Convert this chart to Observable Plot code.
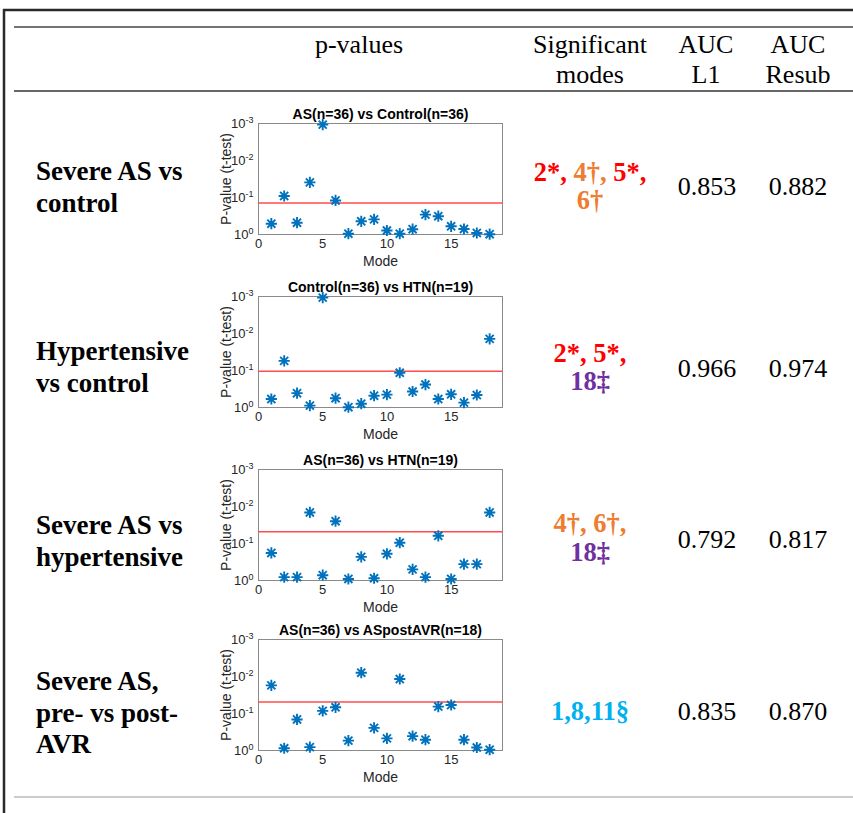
<!DOCTYPE html>
<html><head><meta charset="utf-8">
<script src="https://cdn.jsdelivr.net/npm/d3@7"></script>
<script src="https://cdn.jsdelivr.net/npm/@observablehq/plot@0.6"></script>
<style>
body{margin:0;background:#fff;}
#wrap{position:relative;width:853px;height:813px;overflow:hidden;background:#fff;}
#wrap > svg{position:absolute;}
</style></head><body><div id="wrap"></div>
<script>
// ---- data ----
const modes = [1,2,3,4,5,6,7,8,9,10,11,12,13,14,15,16,17,18];
const pAS_Control   = [0.51,0.091,0.48,0.039,0.00107,0.12,0.95,0.44,0.39,0.78,0.95,0.72,0.29,0.32,0.60,0.71,0.91,0.98];
const pControl_HTN  = [0.59,0.055,0.41,0.89,0.00107,0.56,0.98,0.79,0.48,0.45,0.115,0.37,0.24,0.59,0.44,0.74,0.46,0.014];
const pAS_HTN       = [0.18,0.81,0.81,0.0145,0.72,0.025,0.91,0.23,0.87,0.19,0.095,0.50,0.81,0.062,0.91,0.36,0.36,0.0145];
const pAS_postAVR   = [0.0174,0.87,0.145,0.81,0.085,0.068,0.54,0.0079,0.245,0.47,0.0117,0.41,0.51,0.065,0.059,0.51,0.83,0.95];
const thresholds    = [0.14, 0.105, 0.048, 0.049];
const panelTitles   = ["AS(n=36) vs Control(n=36)","Control(n=36) vs HTN(n=19)","AS(n=36) vs HTN(n=19)","AS(n=36) vs ASpostAVR(n=18)"];
const yTicks        = [1, 0.1, 0.01, 0.001];
const xTicks        = [0, 5, 10, 15];
const headerLine1   = ["p-values","Significant","AUC","AUC"];
const headerLine2   = ["","modes","L1","Resub"];
const rowLabels     = [["Severe AS vs","control"],["Hypertensive","vs control"],["Severe AS vs","hypertensive"],["Severe AS,","pre- vs post-","AVR"]];
const sigModes      = [
  [[["2*, ","red"],["4†, ","orange"],["5*,","red"]],[["6†","orange"]]],
  [[["2*, 5*,","red"]],[["18‡","purple"]]],
  [[["4†, 6†,","orange"]],[["18‡","purple"]]],
  [[["1,8,11§","blue"]]]
];
const aucL1    = ["0.853","0.966","0.792","0.835"];
const aucResub = ["0.882","0.974","0.817","0.870"];
const sigColors = {red:"#ff0000", orange:"#ed7d31", purple:"#7030a0", blue:"#00b0f0"};

// ---- table layer ----
const wrap = d3.select("#wrap");
const t = wrap.append("svg").attr("width",853).attr("height",813).style("left","0px").style("top","0px");
function hline(y, x1, x2, stroke, w){ t.append("line").attr("x1",x1).attr("x2",x2).attr("y1",y).attr("y2",y).attr("stroke",stroke).attr("stroke-width",w); }
hline(10, 3, 853, "#2a2a2a", 2.5);
t.append("line").attr("x1",4).attr("x2",4).attr("y1",9).attr("y2",813).attr("stroke","#2a2a2a").attr("stroke-width",2.5);
hline(27, 14, 853, "#444", 1.4);
hline(91, 14, 853, "#333", 1.6);
hline(797, 14, 853, "#9a9a9a", 1.2);

const serif = "Liberation Serif, Times New Roman, serif";
function txt(x, y, s, opts={}){
  return t.append("text").attr("x",x).attr("y",y).attr("text-anchor",opts.anchor||"middle")
    .style("font-family",serif).style("font-size",(opts.size||26)+"px").style("font-weight",opts.weight||"normal")
    .attr("fill",opts.fill||"#000").text(s);
}
const hx = [359, 590, 706, 798];
headerLine1.forEach((s,i)=>txt(hx[i], 53, s));
headerLine2.forEach((s,i)=>{ if(s) txt(hx[i], 83, s); });

const labelBase = [[180,212],[360,392],[534,566],[690,722,753]];
rowLabels.forEach((lines,r)=>lines.forEach((s,k)=>txt(36, labelBase[r][k], s, {anchor:"start", size:27, weight:"bold"})));

const sigBase = [[181,209],[362,390],[532,561],[720]];
sigModes.forEach((lines,r)=>lines.forEach((segs,k)=>{
  const el = t.append("text").attr("x",590).attr("y",sigBase[r][k]).attr("text-anchor","middle")
    .style("font-family",serif).style("font-size","26.5px").style("font-weight","bold");
  segs.forEach(([s,c])=>el.append("tspan").attr("fill",sigColors[c]).text(s));
}));
const aucBase = [195,377,548,720];
aucL1.forEach((s,r)=>txt(707, aucBase[r], s));
aucResub.forEach((s,r)=>txt(798, aucBase[r], s));

// ---- panels ----
const star = {draw(ctx, size){
  const r = Math.sqrt(size/Math.PI), d = r*0.72;
  ctx.moveTo(-r,0); ctx.lineTo(r,0);
  ctx.moveTo(0,-r); ctx.lineTo(0,r);
  ctx.moveTo(-d,-d); ctx.lineTo(d,d);
  ctx.moveTo(-d,d); ctx.lineTo(d,-d);
}};
const series = [pAS_Control, pControl_HTN, pAS_HTN, pAS_postAVR];
const panelTops = [99, 272, 445, 615];
series.forEach((p, i)=>{
  const data = modes.map((m,j)=>({mode:m, p:p[j]}));
  const svg = Plot.plot({
    width:300, height:175, marginLeft:48, marginRight:8, marginTop:24, marginBottom:40,
    style:{fontFamily:"'Liberation Sans', Arial, sans-serif", fontSize:"13px", color:"#262626", background:"transparent", overflow:"visible"},
    x:{domain:[0,19], label:null},
    y:{type:"log", domain:[1,0.001], label:null},
    marks:[
      Plot.frame({stroke:"#8a8a8a"}),
      Plot.axisX({ticks:xTicks, tickSize:0, tickPadding:4, label:null, fontSize:13}),
      Plot.axisY({ticks:yTicks, tickSize:0, tickPadding:5, label:null, fontSize:13, tickFormat: d => "10^" + Math.round(Math.log10(d))}),
      Plot.ruleY([thresholds[i]], {stroke:"#ff4d4d", strokeWidth:1.5}),
      Plot.dot(data, {x:"mode", y:"p", symbol:star, r:5.6, stroke:"#0072BD", fill:"none", strokeWidth:1.9}),
      Plot.text([panelTitles[i]], {frameAnchor:"top", dy:-5, lineAnchor:"bottom", textAnchor:"middle", fontWeight:"bold", fontSize:14, fill:"#000"}),
      Plot.text(["Mode"], {frameAnchor:"bottom", dy:31, lineAnchor:"bottom", textAnchor:"middle", fontSize:14}),
      Plot.text(["P-value (t-test)"], {frameAnchor:"left", dx:-28, rotate:-90, lineAnchor:"bottom", textAnchor:"middle", fontSize:14})
    ]
  });
  d3.select(svg).selectAll('g[aria-label="y-axis tick label"] text').each(function(){
    const s = this.textContent; if(!s.includes("^")) return;
    const [b,e] = s.split("^"); const sel = d3.select(this); sel.text(null);
    sel.append("tspan").text(b);
    sel.append("tspan").attr("dy","-0.55em").attr("font-size","9px").text(e);
  });
  svg.style.left = "210px";
  svg.style.top = panelTops[i] + "px";
  document.getElementById("wrap").appendChild(svg);
});
</script></body></html>
